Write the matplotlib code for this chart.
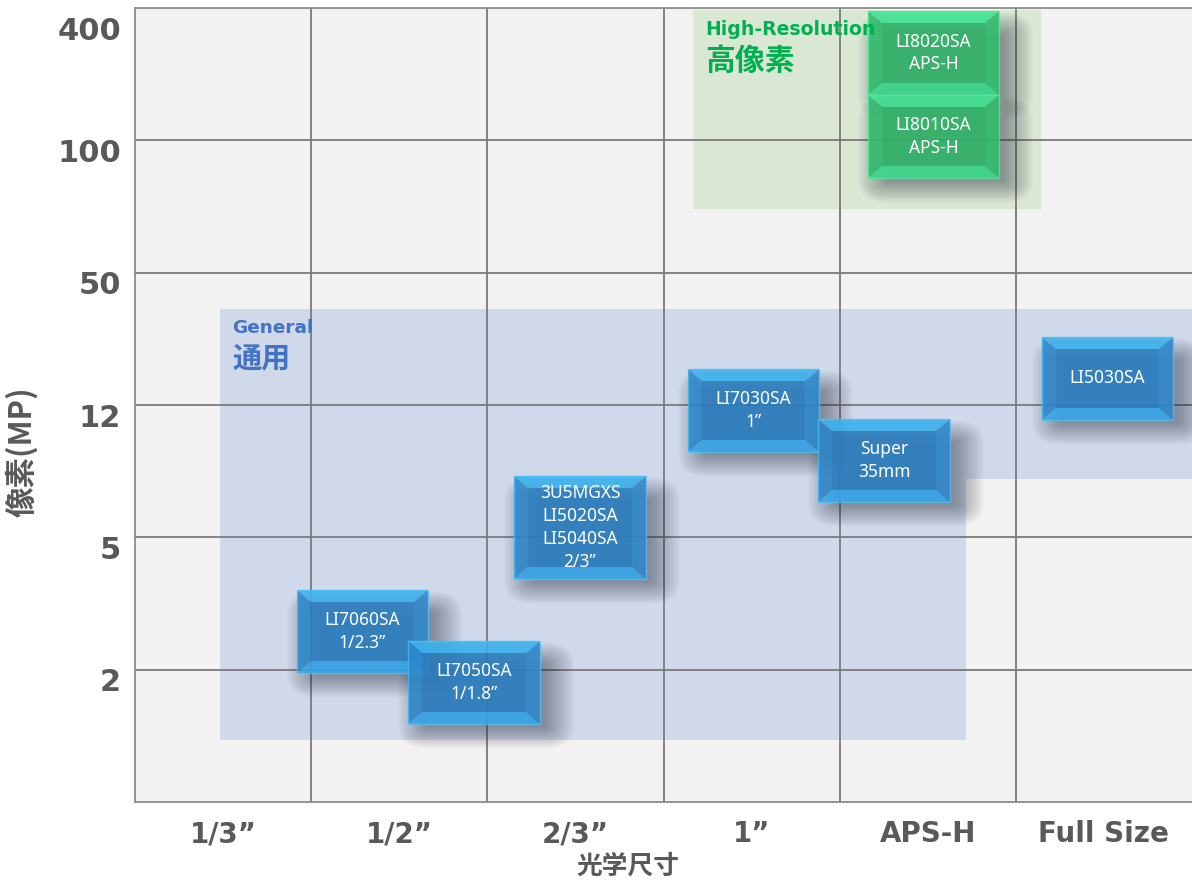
import matplotlib
matplotlib.use("Agg")
import matplotlib.pyplot as plt
from matplotlib.patches import Polygon, Rectangle, FancyBboxPatch
import matplotlib.transforms as mtransforms

# ---------------- data ----------------
x_labels = ["1/3”", "1/2”", "2/3”", "1”", "APS-H", "Full Size"]
y_labels = ["2", "5", "12", "50", "100", "400"]

names = ["LI7060SA\n1/2.3”", "LI7050SA\n1/1.8”", "3U5MGXS\nLI5020SA\nLI5040SA\n2/3”",
         "LI7030SA\n1”", "Super\n35mm", "LI5030SA", "LI8020SA\nAPS-H", "LI8010SA\nAPS-H"]
box_x0 = [0.920, 1.550, 2.151, 3.139, 3.877, 5.148, 4.161, 4.161]
box_x1 = [1.663, 2.299, 2.901, 3.883, 4.626, 5.892, 4.904, 4.904]
box_y0 = [0.975, 0.589, 1.685, 2.645, 2.267, 2.887, 5.343, 4.715]
box_y1 = [1.602, 1.217, 2.464, 3.272, 2.894, 3.514, 5.977, 5.343]
box_group = ["general"] * 6 + ["high"] * 2

general_x = [0.4825, 0.4825, 6.0, 6.0, 4.717, 4.717]
general_y = [0.4685, 3.7255, 3.7255, 2.441, 2.441, 0.4685]
high_x = [3.167, 3.167, 5.143, 5.143]
high_y = [4.481, 5.985, 5.985, 4.481]

# ---------------- figure ----------------
W, H = 1192, 884
fig = plt.figure(figsize=(W / 100, H / 100), dpi=100)
ax_l, ax_r, ax_b, ax_t = 135, 1192, 802, 8
ax = fig.add_axes([ax_l / W, (H - ax_b) / H, (ax_r - ax_l) / W, (ax_b - ax_t) / H])
ax.set_xlim(0, 6)
ax.set_ylim(0, 6)
ax.set_facecolor("#F2F2F2")
px_x = 6 / (ax_r - ax_l)   # data units per pixel
px_y = 6 / (ax_b - ax_t)

for s in ["left", "bottom", "top"]:
    ax.spines[s].set_color("#8C8C8C")
    ax.spines[s].set_linewidth(1.3)
ax.spines["right"].set_visible(False)

# ticks
ax.set_xticks([i + 0.5 for i in range(len(x_labels))])
ax.set_xticklabels(x_labels, fontsize=20, fontweight="bold", color="#595959",
                   family=["DejaVu Sans"])
ax.set_yticks(range(1, len(y_labels) + 1))
ax.set_yticklabels(y_labels, fontsize=22, fontweight="bold", color="#595959",
                   family=["DejaVu Sans"])
ax.tick_params(axis="both", which="both", length=0)
ax.tick_params(axis="x", pad=13)
ax.tick_params(axis="y", pad=10)
for i, lab in enumerate(ax.get_yticklabels()):
    off = 20 if i == len(y_labels) - 1 else 10
    lab.set_transform(lab.get_transform() +
                      mtransforms.ScaledTranslation(0, -off / 100, fig.dpi_scale_trans))

# grid
ax.grid(False)
for v in range(1, 6):
    ax.axvline(v, color="#7A7A7A", lw=1.3, zorder=2)
    ax.axhline(v, color="#7A7A7A", lw=1.3, zorder=2)

# regions
ax.add_patch(Polygon(list(zip(general_x, general_y)), closed=True,
                     facecolor="#C5D1E8", alpha=0.75, edgecolor="none", zorder=1))
ax.add_patch(Polygon(list(zip(high_x, high_y)), closed=True,
                     facecolor="#D5E5CC", alpha=0.8, edgecolor="none", zorder=1))

cjk = ["Noto Sans CJK JP", "DejaVu Sans"]
ax.text(0.5506, 3.58, "General", color="#4472C4", fontsize=13.3, fontweight="bold",
        va="center", ha="left", family=["DejaVu Sans"], zorder=3)
ax.text(0.5506, 3.355, "通用", color="#4472C4", fontsize=21, fontweight="bold",
        va="center", ha="left", family=cjk, zorder=3)
ax.text(3.2355, 5.84, "High-Resolution", color="#00B050", fontsize=13.6, fontweight="bold",
        va="center", ha="left", family=["DejaVu Sans"], zorder=7)
ax.text(3.2355, 5.6, "高像素", color="#00B050", fontsize=21.5, fontweight="bold",
        va="center", ha="left", family=cjk, zorder=7)

# axis titles
ax.set_xlabel("光学尺寸", fontsize=18.5, fontweight="bold", color="#595959", family=cjk)
ax.xaxis.set_label_coords((628 - ax_l) / (ax_r - ax_l), (ax_b - 866) / (ax_b - ax_t))
ax.xaxis.label.set_va("center")
ax.set_ylabel("像素(MP)", fontsize=22, fontweight="bold", color="#595959", family=cjk)
ax.yaxis.set_label_coords((22 - ax_l) / (ax_r - ax_l), (ax_b - 452) / (ax_b - ax_t))
ax.yaxis.label.set_va("center")

palettes = {
    "general": dict(top="#3CB2EE", bottom="#36A6EA", side="#2F88CA", center="#2C7FC1",
                    edge="#4CC6F6"),
    "high": dict(top="#40E493", bottom="#3BD98A", side="#32BC6E", center="#30B468",
                 edge="#4FF0A0"),
}

# soft shadows (rounded layers to avoid hard corners)
n_layers = 26
for x0, x1, y0, y1 in zip(box_x0, box_x1, box_y0, box_y1):
    cx0, cx1 = x0 + 20 * px_x, x1 + 4 * px_x
    cy0, cy1 = y0 - 2 * px_y, y1 - 24 * px_y
    for k in range(n_layers):
        g = 0.9 * k
        ax.add_patch(FancyBboxPatch((cx0, cy0), cx1 - cx0, cy1 - cy0,
                                    boxstyle=f"round,pad={g * px_y:.5f},rounding_size={g * px_y:.5f}",
                                    mutation_aspect=px_y / px_y,
                                    facecolor="#2A3040", alpha=0.02, edgecolor="none",
                                    zorder=3))

# boxes
for name, x0, x1, y0, y1, grp in zip(names, box_x0, box_x1, box_y0, box_y1, box_group):
    c = palettes[grp]
    bx, by = 14 * px_x, 12 * px_y
    al = 0.9
    ax.add_patch(Polygon([(x0, y1), (x1, y1), (x1 - bx, y1 - by), (x0 + bx, y1 - by)],
                         facecolor=c["top"], edgecolor="none", alpha=al, zorder=4))
    ax.add_patch(Polygon([(x0, y0), (x1, y0), (x1 - bx, y0 + by), (x0 + bx, y0 + by)],
                         facecolor=c["bottom"], edgecolor="none", alpha=al, zorder=4))
    ax.add_patch(Polygon([(x0, y0), (x0 + bx, y0 + by), (x0 + bx, y1 - by), (x0, y1)],
                         facecolor=c["side"], edgecolor="none", alpha=al, zorder=4))
    ax.add_patch(Polygon([(x1, y0), (x1 - bx, y0 + by), (x1 - bx, y1 - by), (x1, y1)],
                         facecolor=c["side"], edgecolor="none", alpha=al, zorder=4))
    ax.add_patch(Rectangle((x0 + bx, y0 + by), (x1 - x0) - 2 * bx, (y1 - y0) - 2 * by,
                           facecolor=c["center"], edgecolor="none", alpha=al, zorder=4))
    ax.add_patch(Rectangle((x0, y0), x1 - x0, y1 - y0, facecolor="none",
                           edgecolor=c["edge"], lw=1.0, alpha=0.7, zorder=4))
    ax.text((x0 + x1) / 2, (y0 + y1) / 2, name, color="white", fontsize=12.5,
            ha="center", va="center", linespacing=1.35, family=["Noto Sans"], zorder=6)

fig.savefig("out.png", dpi=100, facecolor="white")
